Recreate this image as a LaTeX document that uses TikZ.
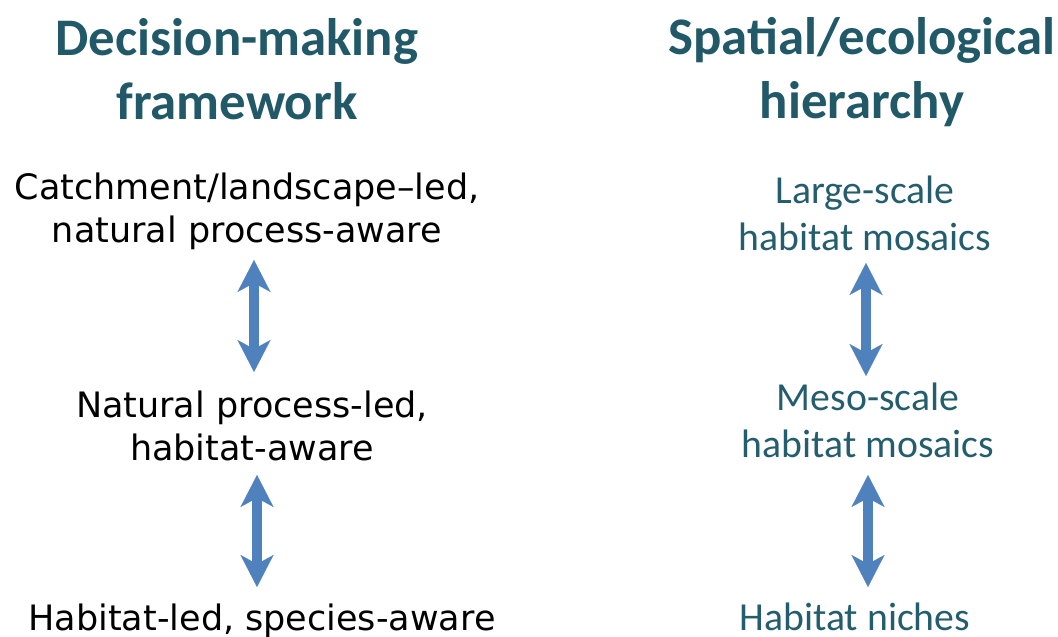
\documentclass[tikz,border=0pt]{standalone}
\usepackage{fontspec}
\usetikzlibrary{arrows.meta}
\newfontfamily\calfont{Carlito}
\newfontfamily\verfont{DejaVu Sans}
\definecolor{headteal}{HTML}{215968}
\definecolor{rightteal}{HTML}{245E6E}
\definecolor{arrowblue}{HTML}{4F81BD}
\tikzset{
  header/.style={font=\calfont\bfseries\fontsize{52.8}{64}\selectfont, text=headteal, align=center, anchor=base, inner sep=0pt},
  lefttext/.style={font=\verfont\fontsize{35}{43}\selectfont, text=black, align=center, anchor=base, inner sep=0pt},
  righttext/.style={font=\calfont\fontsize{39.7}{47}\selectfont, text=rightteal, align=center, anchor=base, inner sep=0pt},
  bigarrow/.style={draw=arrowblue, line width=10pt,
    {Stealth[length=32pt,width=33pt,inset=9pt,line width=0.1pt]}-{Stealth[length=32pt,width=33pt,inset=9pt,line width=0.1pt]}}
}
\begin{document}
\begin{tikzpicture}[x=1pt,y=-1pt]
\useasboundingbox (0,0) rectangle (1058,637);
% headers (anchor = baseline of the last line)
\node[header] (hleft) at (237,119) {Decision-making\\framework};
\node[header] (hright) at (862,118) {Spatial/ecological\\hierarchy};
% left column
\node[lefttext] (l1) at (247,242) {Catchment/landscape–led,\\natural process-aware};
\node[lefttext] (l2) at (252,460) {Natural process-led,\\habitat-aware};
\node[lefttext] (l3) at (262,630) {Habitat-led, species-aware};
% right column
\node[righttext] (r1) at (865,250) {Large-scale\\habitat mosaics};
\node[righttext] (r2) at (868,457) {Meso-scale\\habitat mosaics};
\node[righttext] (r3) at (855,630) {Habitat niches};
% arrow end points
\coordinate (a1t) at (254,260); \coordinate (a1b) at (254,372);
\coordinate (a2t) at (257,475); \coordinate (a2b) at (257,587);
\coordinate (b1t) at (866,263); \coordinate (b1b) at (866,376);
\coordinate (b2t) at (868,475); \coordinate (b2b) at (868,587);
\draw[bigarrow] (a1t) -- (a1b);
\draw[bigarrow] (a2t) -- (a2b);
\draw[bigarrow] (b1t) -- (b1b);
\draw[bigarrow] (b2t) -- (b2b);
\end{tikzpicture}
\end{document}
